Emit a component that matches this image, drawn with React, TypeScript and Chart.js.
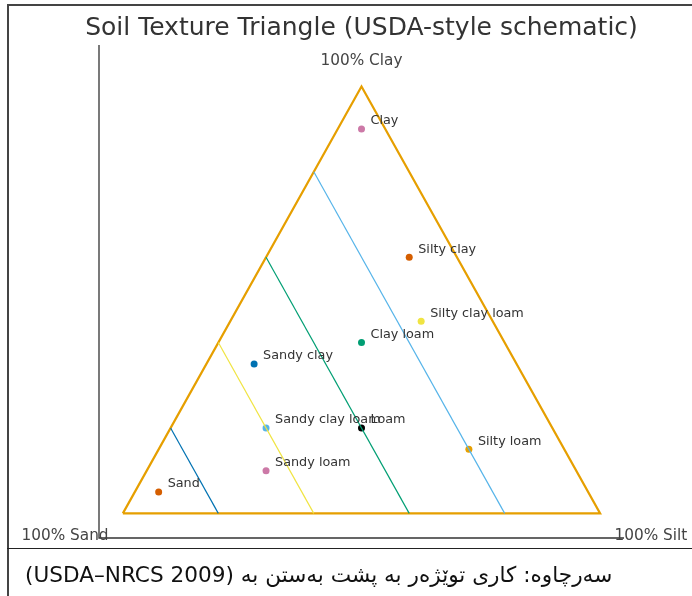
import React, { useEffect, useRef } from 'react';
import { Chart, registerables } from 'chart.js';

Chart.register(...registerables);

// Texture classes and their (sand, silt, clay) percentages
const textures = ['Clay', 'Silty clay', 'Silty clay loam', 'Clay loam', 'Sandy clay', 'Sandy clay loam', 'Loam', 'Silty loam', 'Sandy loam', 'Sand'];
const sandPct = [5, 10, 15, 30, 55, 60, 40, 20, 65, 90];
const siltPct = [5, 30, 40, 30, 10, 20, 40, 65, 25, 5];
const clayPct = [90, 60, 45, 40, 35, 20, 20, 15, 10, 5];
const pointColors = ['#CC79A7', '#D55E00', '#F0E442', '#009E73', '#0072B2', '#56B4E9', '#000000', '#E69F00', '#CC79A7', '#D55E00'];

// Constant-sand guide lines
const sandLines = [80, 60, 40, 20];
const sandLineColors = ['#0072B2', '#F0E442', '#009E73', '#56B4E9'];

const cornerLabels = ['100% Sand', '100% Silt', '100% Clay'];
const titleText = 'Soil Texture Triangle (USDA-style schematic)';
const captionText = 'سەرچاوە: کاری توێژەر بە پشت بەستن بە (USDA–NRCS 2009)';

const H = Math.sqrt(3) / 2;
function tern(sand: number, silt: number, clay: number) {
  const t = sand + silt + clay;
  return { x: (silt + clay / 2) / t, y: (clay / t) * H };
}

export default function App() {
  const ref = useRef<HTMLCanvasElement>(null);

  useEffect(() => {
    const canvas = ref.current!;
    const pts = textures.map((_, i) => tern(sandPct[i], siltPct[i], clayPct[i]));
    const tri = [tern(100, 0, 0), tern(0, 100, 0), tern(0, 0, 100), tern(100, 0, 0)];
    const guideSets = sandLines.map((s, i) => ({
      label: 'sand ' + s,
      data: [tern(s, 100 - s, 0), tern(s, 0, 100 - s)],
      showLine: true,
      borderColor: sandLineColors[i],
      borderWidth: 1.2,
      pointRadius: 0,
      fill: false,
    }));

    const decor = {
      id: 'decor',
      beforeDatasetsDraw(chart: any) {
        const { ctx, chartArea } = chart;
        ctx.save();
        ctx.strokeStyle = '#333';
        ctx.lineWidth = 1.3;
        ctx.beginPath();
        ctx.moveTo(chartArea.left, chartArea.top);
        ctx.lineTo(chartArea.left, chartArea.bottom);
        ctx.lineTo(chartArea.right, chartArea.bottom);
        ctx.stroke();
        ctx.restore();
      },
      afterDatasetsDraw(chart: any) {
        const { ctx, chartArea, scales } = chart;
        const xs = scales.x, ys = scales.y;
        ctx.save();
        // title
        ctx.fillStyle = '#333';
        ctx.font = '25px "DejaVu Sans"';
        ctx.textAlign = 'center';
        ctx.textBaseline = 'middle';
        ctx.fillText(titleText, (chartArea.left + chartArea.right) / 2, 28);
        // corner labels
        ctx.font = '15.3px "DejaVu Sans"';
        ctx.fillStyle = '#444';
        ctx.textAlign = 'right';
        ctx.fillText(cornerLabels[0], xs.getPixelForValue(-0.03), ys.getPixelForValue(-0.046));
        ctx.textAlign = 'left';
        ctx.fillText(cornerLabels[1], xs.getPixelForValue(1.03), ys.getPixelForValue(-0.046));
        ctx.textAlign = 'center';
        ctx.fillText(cornerLabels[2], xs.getPixelForValue(0.5), ys.getPixelForValue(H + 0.052));
        // point labels
        const meta = chart.getDatasetMeta(chart.data.datasets.length - 1);
        ctx.font = '12.8px "DejaVu Sans"';
        ctx.fillStyle = '#333';
        ctx.textAlign = 'left';
        meta.data.forEach((el: any, i: number) => {
          ctx.fillText(textures[i], el.x + 9, el.y - 8);
        });
        ctx.restore();
      },
    };

    const chart = new Chart(canvas, {
      type: 'scatter',
      data: {
        datasets: [
          ...guideSets,
          {
            label: 'triangle',
            data: tri,
            showLine: true,
            borderColor: '#E69F00',
            borderWidth: 2.2,
            pointRadius: 0,
            fill: false,
          },
          {
            label: 'textures',
            data: pts,
            pointBackgroundColor: pointColors,
            pointBorderColor: pointColors,
            pointRadius: 3.5,
            pointBorderWidth: 0,
          },
        ] as any,
      },
      options: {
        animation: false,
        responsive: false,
        layout: { padding: { left: 99, top: 45, right: 68, bottom: 10 } },
        plugins: { legend: { display: false }, tooltip: { enabled: false }, title: { display: false } },
        scales: {
          x: { type: 'linear', min: -0.05, max: 1.05, display: false },
          y: { type: 'linear', min: -0.05, max: 0.95, display: false },
        },
      },
      plugins: [decor],
    });
    return () => chart.destroy();
  }, []);

  return (
    <div style={{ position: 'fixed', left: 0, top: 0, width: 692, height: 596, overflow: 'hidden', background: '#fff' }}>
      <canvas ref={ref} width={692} height={548} style={{ position: 'absolute', left: 0, top: 0 }} />
      <div
        style={{
          position: 'absolute', left: 7, top: 4, width: 800, height: 700,
          borderLeft: '2px solid #444', borderTop: '2px solid #444', pointerEvents: 'none',
        }}
      />
      <div style={{ position: 'absolute', left: 7, top: 548, width: 800, borderTop: '1px solid #222' }} />
      <div
        dir="rtl"
        style={{
          position: 'absolute', left: 25, top: 560, whiteSpace: 'nowrap',
          fontFamily: '"DejaVu Sans", sans-serif', fontSize: 21.6, color: '#111', lineHeight: '30px',
        }}
      >
        {captionText}
      </div>
    </div>
  );
}
